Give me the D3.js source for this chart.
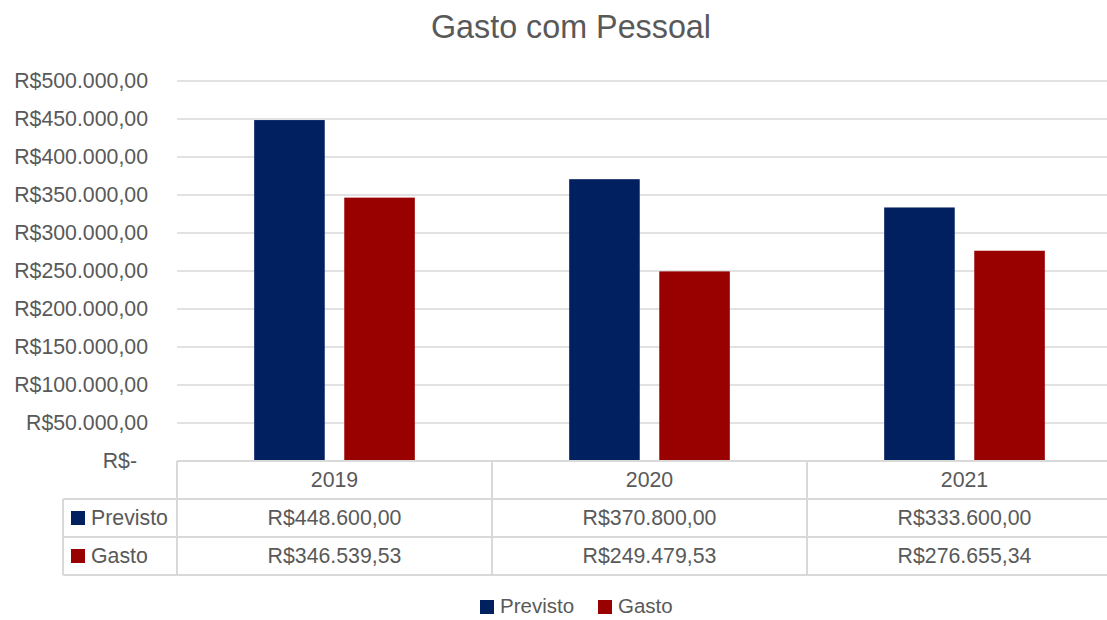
<!DOCTYPE html>
<html>
<head>
<meta charset="utf-8">
<script src="https://cdn.jsdelivr.net/npm/d3@7"></script>
<style>
  body { margin: 0; background: #fff; }
  svg { display: block; font-family: "Liberation Sans", Arial, sans-serif; }
</style>
</head>
<body>
<div id="chart"></div>
<script>
// Data
const years = ["2019", "2020", "2021"];
const seriesNames = ["Previsto", "Gasto"];
const previsto = [448600, 370800, 333600];
const gasto = [346539.53, 249479.53, 276655.34];
const yTicks = [0, 50000, 100000, 150000, 200000, 250000, 300000, 350000, 400000, 450000, 500000];

const width = 1107;
const height = 620;
const plot = { left: 177, right: 1122, top: 81, bottom: 461 };
const rowH = 38;
const colors = { Previsto: "#002060", Gasto: "#990000" };
const textColor = "#595959";
const lineColor = "#d9d9d9";
const fs = "21.3px";

// Brazilian currency format
const br = d3.formatLocale({
    decimal: ",",
    thousands: ".",
    grouping: [3],
    currency: ["R$", ""]
});
const fmt = br.format("$,.2f");
const tickFmt = v => v === 0 ? "R$-" : fmt(v);

const svg = d3.select("#chart")
    .append("svg")
    .attr("width", width)
    .attr("height", height);

// Title
svg.append("text")
    .attr("x", 571)
    .attr("y", 38)
    .attr("text-anchor", "middle")
    .style("font-size", "32.3px")
    .style("fill", textColor)
    .text("Gasto com Pessoal");

// Scales
const x0 = d3.scaleBand()
    .domain(years)
    .range([plot.left, plot.right]);

const groupPad = x0.bandwidth() * 0.245;
const x1 = d3.scaleBand()
    .domain(seriesNames)
    .range([groupPad, x0.bandwidth() - groupPad])
    .paddingInner(0.2167);

const y = d3.scaleLinear()
    .domain([0, 500000])
    .range([plot.bottom, plot.top]);

// Gridlines
svg.append("g")
    .selectAll("line")
    .data(yTicks.filter(d => d > 0))
    .join("line")
    .attr("x1", plot.left)
    .attr("x2", plot.right)
    .attr("y1", d => y(d))
    .attr("y2", d => y(d))
    .style("stroke", lineColor)
    .style("stroke-width", 1.5);

// Y axis labels
svg.append("g")
    .selectAll("text")
    .data(yTicks)
    .join("text")
    .attr("x", d => d === 0 ? 137 : 148)
    .attr("y", d => y(d))
    .attr("dy", "0.35em")
    .attr("text-anchor", "end")
    .style("font-size", fs)
    .style("fill", textColor)
    .text(tickFmt);

// Bars
const rows = years.map((yr, i) => ({ year: yr, Previsto: previsto[i], Gasto: gasto[i] }));

const groups = svg.append("g")
    .selectAll("g")
    .data(rows)
    .join("g")
    .attr("transform", d => `translate(${x0(d.year)},0)`);

groups.selectAll("rect")
    .data(d => seriesNames.map(s => ({ key: s, value: d[s] })))
    .join("rect")
    .attr("x", d => x1(d.key))
    .attr("width", x1.bandwidth())
    .attr("y", d => y(d.value))
    .attr("height", d => y(0) - y(d.value))
    .style("fill", d => colors[d.key]);

// Data table
const table = svg.append("g");
const tableLeft = 63;
const tTop = plot.bottom;

// horizontal lines
table.append("line")
    .attr("x1", plot.left).attr("x2", plot.right)
    .attr("y1", tTop).attr("y2", tTop);
[1, 2, 3].forEach(k => {
    table.append("line")
        .attr("x1", tableLeft).attr("x2", plot.right)
        .attr("y1", tTop + k * rowH).attr("y2", tTop + k * rowH);
});
// vertical lines
table.append("line")
    .attr("x1", tableLeft).attr("x2", tableLeft)
    .attr("y1", tTop + rowH).attr("y2", tTop + 3 * rowH);
years.forEach(yr => {
    table.append("line")
        .attr("x1", x0(yr)).attr("x2", x0(yr))
        .attr("y1", tTop).attr("y2", tTop + 3 * rowH);
});
table.selectAll("line")
    .style("stroke", lineColor)
    .style("stroke-width", 2);

// header row
table.selectAll(".yr")
    .data(years)
    .join("text")
    .attr("class", "yr")
    .attr("x", d => x0(d) + x0.bandwidth() / 2)
    .attr("y", tTop + rowH / 2)
    .attr("dy", "0.35em")
    .attr("text-anchor", "middle")
    .style("font-size", fs)
    .style("fill", textColor)
    .text(d => d);

// series rows
const seriesVals = { Previsto: previsto, Gasto: gasto };
seriesNames.forEach((s, r) => {
    const cy = tTop + rowH * (r + 1) + rowH / 2;
    table.append("rect")
        .attr("x", 71)
        .attr("y", cy - 7)
        .attr("width", 14)
        .attr("height", 14)
        .style("fill", colors[s]);
    table.append("text")
        .attr("x", 91)
        .attr("y", cy)
        .attr("dy", "0.35em")
        .style("font-size", fs)
        .style("fill", textColor)
        .text(s);
    table.selectAll(".v" + r)
        .data(seriesVals[s])
        .join("text")
        .attr("class", "v" + r)
        .attr("x", (d, i) => x0(years[i]) + x0.bandwidth() / 2)
        .attr("y", cy)
        .attr("dy", "0.35em")
        .attr("text-anchor", "middle")
        .style("font-size", fs)
        .style("fill", textColor)
        .text(d => fmt(d));
});

// Legend
const legendPos = [480, 598];
const legend = svg.append("g")
    .selectAll("g")
    .data(seriesNames)
    .join("g")
    .attr("transform", (d, i) => `translate(${legendPos[i]},606)`);

legend.append("rect")
    .attr("x", 0)
    .attr("y", -6)
    .attr("width", 14)
    .attr("height", 14)
    .style("fill", d => colors[d]);

legend.append("text")
    .attr("x", 20)
    .attr("y", 0)
    .attr("dy", "0.35em")
    .style("font-size", "20.5px")
    .style("fill", textColor)
    .text(d => d);
</script>
</body>
</html>
